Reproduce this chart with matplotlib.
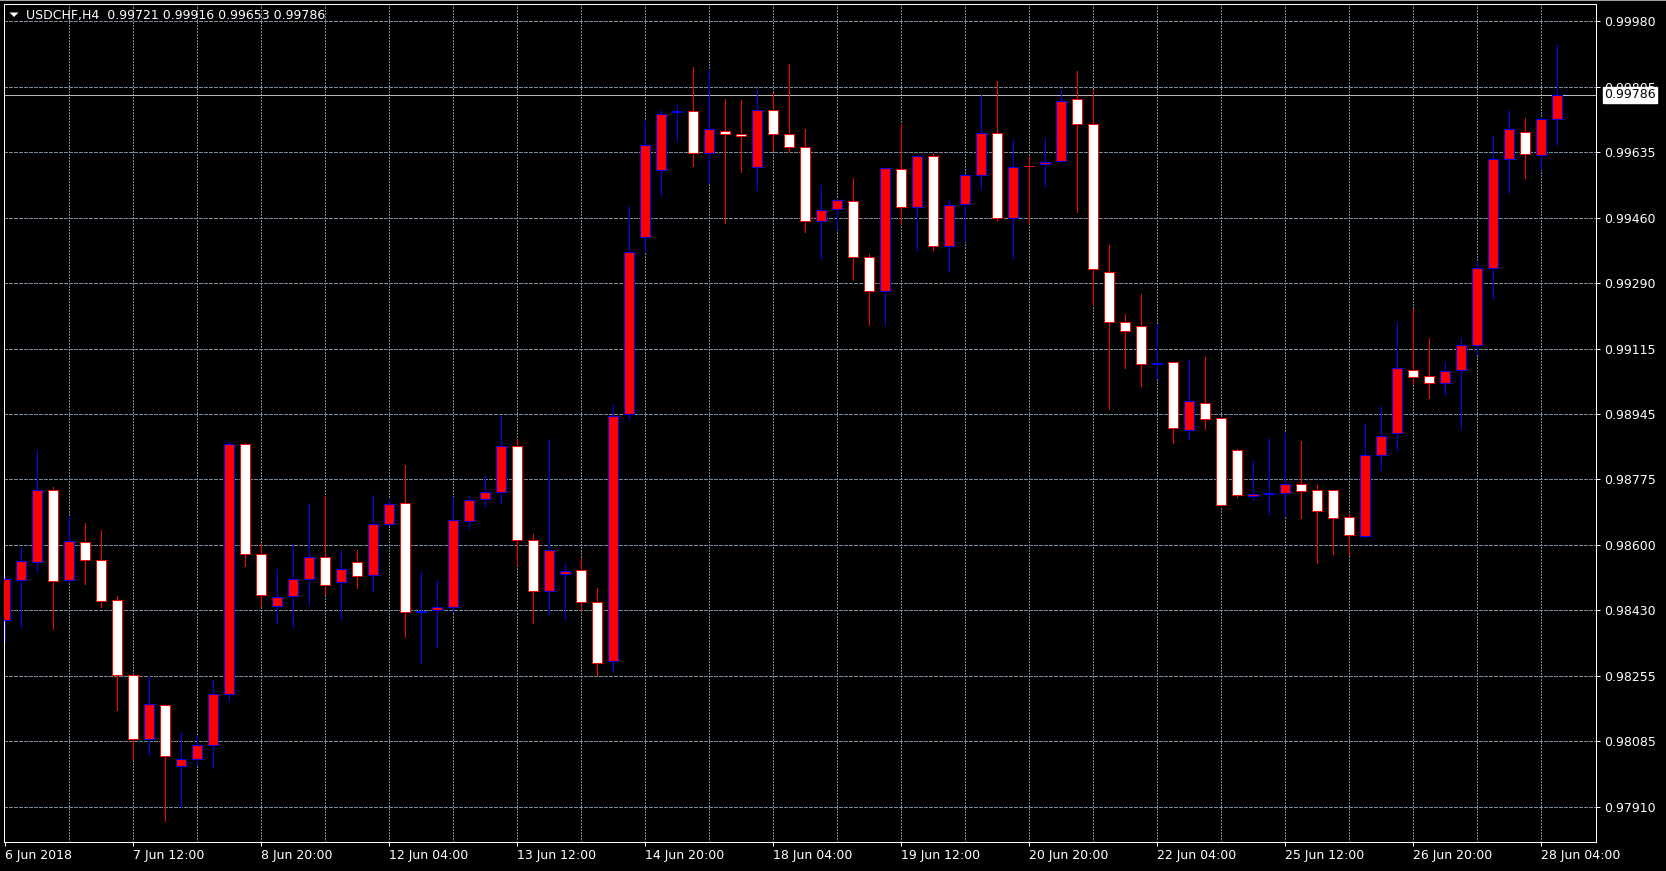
import matplotlib
matplotlib.use("Agg")
import matplotlib.pyplot as plt
from matplotlib.lines import Line2D
from matplotlib.patches import Polygon
import numpy as np

# ---------------- data (USDCHF, H4) ----------------
opens = [0.98404, 0.98509, 0.98555, 0.98746, 0.98509, 0.98607, 0.98561, 0.98456, 0.98259, 0.98089,
         0.98179, 0.98018, 0.98037, 0.98075, 0.98209, 0.98866, 0.98576, 0.98441, 0.98466, 0.98512,
         0.98570, 0.98502, 0.98555, 0.98522, 0.98656, 0.98710, 0.98423, 0.98428, 0.98438, 0.98664,
         0.98721, 0.98740, 0.98860, 0.98614, 0.98479, 0.98525, 0.98534, 0.98450, 0.98294, 0.98944,
         0.99411, 0.99587, 0.99740, 0.99742, 0.99631, 0.99691, 0.99683, 0.99596, 0.99746, 0.99683,
         0.99649, 0.99452, 0.99486, 0.99507, 0.99359, 0.99270, 0.99589, 0.99489, 0.99623, 0.99388,
         0.99498, 0.99573, 0.99686, 0.99462, 0.99599, 0.99602, 0.99610, 0.99775, 0.99709, 0.99320,
         0.99186, 0.99176, 0.99078, 0.99081, 0.98903, 0.98975, 0.98934, 0.98851, 0.98730, 0.98734,
         0.98737, 0.98760, 0.98744, 0.98744, 0.98674, 0.98623, 0.98837, 0.98895, 0.99062, 0.99045,
         0.99027, 0.99060, 0.99128, 0.99330, 0.99616, 0.99687, 0.99626, 0.99721]
highs = [0.98519, 0.98594, 0.98851, 0.98753, 0.98675, 0.98659, 0.98639, 0.98466, 0.98262, 0.98255,
         0.98180, 0.98108, 0.98101, 0.98245, 0.98871, 0.98869, 0.98606, 0.98538, 0.98600, 0.98711,
         0.98730, 0.98587, 0.98587, 0.98733, 0.98721, 0.98811, 0.98531, 0.98509, 0.98727, 0.98730,
         0.98782, 0.98942, 0.98880, 0.98630, 0.98880, 0.98554, 0.98565, 0.98487, 0.98970, 0.99492,
         0.99717, 0.99746, 0.99761, 0.99859, 0.99850, 0.99774, 0.99771, 0.99797, 0.99790, 0.99866,
         0.99696, 0.99548, 0.99512, 0.99566, 0.99367, 0.99596, 0.99709, 0.99626, 0.99632, 0.99508,
         0.99576, 0.99785, 0.99821, 0.99670, 0.99621, 0.99671, 0.99797, 0.99849, 0.99797, 0.99390,
         0.99208, 0.99260, 0.99183, 0.99082, 0.99089, 0.99095, 0.98935, 0.98853, 0.98822, 0.98883,
         0.98895, 0.98874, 0.98759, 0.98746, 0.98682, 0.98922, 0.98965, 0.99188, 0.99222, 0.99146,
         0.99082, 0.99146, 0.99345, 0.99678, 0.99746, 0.99724, 0.99724, 0.99916]
lows = [0.98349, 0.98382, 0.98529, 0.98378, 0.98506, 0.98499, 0.98437, 0.98166, 0.98037, 0.98047,
        0.97873, 0.97910, 0.98021, 0.98014, 0.98190, 0.98544, 0.98441, 0.98394, 0.98381, 0.98443,
        0.98472, 0.98402, 0.98486, 0.98479, 0.98652, 0.98358, 0.98291, 0.98332, 0.98425, 0.98643,
        0.98704, 0.98711, 0.98548, 0.98394, 0.98420, 0.98402, 0.98428, 0.98259, 0.98265, 0.98929,
        0.99371, 0.99518, 0.99664, 0.99599, 0.99554, 0.99447, 0.99583, 0.99534, 0.99639, 0.99634,
        0.99423, 0.99352, 0.99431, 0.99299, 0.99179, 0.99180, 0.99446, 0.99378, 0.99378, 0.99320,
        0.99400, 0.99537, 0.99455, 0.99356, 0.99447, 0.99544, 0.99609, 0.99478, 0.99232, 0.98959,
        0.99065, 0.99020, 0.99039, 0.98869, 0.98880, 0.98905, 0.98704, 0.98726, 0.98720, 0.98682,
        0.98678, 0.98671, 0.98552, 0.98578, 0.98574, 0.98620, 0.98798, 0.98851, 0.99024, 0.98987,
        0.98996, 0.98905, 0.99104, 0.99247, 0.99527, 0.99567, 0.99589, 0.99653]
closes = [0.98512, 0.98557, 0.98746, 0.98505, 0.98612, 0.98560, 0.98454, 0.98259, 0.98089, 0.98181,
          0.98046, 0.98037, 0.98075, 0.98209, 0.98866, 0.98577, 0.98469, 0.98464, 0.98512, 0.98570,
          0.98496, 0.98537, 0.98519, 0.98655, 0.98707, 0.98424, 0.98427, 0.98438, 0.98665, 0.98720,
          0.98739, 0.98860, 0.98614, 0.98479, 0.98586, 0.98532, 0.98451, 0.98291, 0.98939, 0.99371,
          0.99654, 0.99736, 0.99743, 0.99631, 0.99694, 0.99683, 0.99677, 0.99746, 0.99683, 0.99648,
          0.99452, 0.99481, 0.99509, 0.99359, 0.99270, 0.99592, 0.99489, 0.99623, 0.99388, 0.99494,
          0.99573, 0.99686, 0.99462, 0.99596, 0.99598, 0.99608, 0.99768, 0.99709, 0.99326, 0.99186,
          0.99163, 0.99076, 0.99079, 0.98909, 0.98980, 0.98932, 0.98705, 0.98731, 0.98734, 0.98736,
          0.98760, 0.98742, 0.98691, 0.98672, 0.98626, 0.98837, 0.98887, 0.99065, 0.99042, 0.99027,
          0.99058, 0.99127, 0.99330, 0.99615, 0.99696, 0.99629, 0.99721, 0.99786]

time_labels = ["6 Jun 2018", "7 Jun 12:00", "8 Jun 20:00", "12 Jun 04:00", "13 Jun 12:00",
               "14 Jun 20:00", "18 Jun 04:00", "19 Jun 12:00", "20 Jun 20:00", "22 Jun 04:00",
               "25 Jun 12:00", "26 Jun 20:00", "28 Jun 04:00"]
label_every = 8
grid_every = 4
price_ticks = [0.97910, 0.98085, 0.98255, 0.98430, 0.98600, 0.98775, 0.98945,
               0.99115, 0.99290, 0.99460, 0.99635, 0.99805, 0.99980]
price_labels = ["0.97910", "0.98085", "0.98255", "0.98430", "0.98600", "0.98775", "0.98945",
                "0.99115", "0.99290", "0.99460", "0.99635", "0.99805", "0.99980"]
symbol = "USDCHF,H4"
last_bar = (0.99721, 0.99916, 0.99653, 0.99786)

# ---------------- styling ----------------
BULL_FACE, BULL_EDGE = "#ff0000", "#0000ff"
BEAR_FACE, BEAR_EDGE = "#ffffff", "#ff0000"
GRID = "#778899"
FG = "#ffffff"
PX = 0.72  # one pixel in points at dpi 100

W, H = 1666, 871
fig = plt.figure(figsize=(W / 100, H / 100), dpi=100, facecolor="black")
left, right, top, bottom = 4, 1596, 4.4, 842
ax = fig.add_axes([left / W, 1 - bottom / H, (right - left) / W, (bottom - top) / H])
ax.set_facecolor("black")

o = np.array(opens); h = np.array(highs); l = np.array(lows); c = np.array(closes)
n = len(o)
x = np.arange(n)
up = c >= o
face = np.where(up, BULL_FACE, BEAR_FACE)
edge = np.where(up, BULL_EDGE, BEAR_EDGE)

ax.set_xlim(-0.083, 99.42)
ax.set_ylim(0.978187, 1.000232)

# grid
for yv in price_ticks:
    ax.axhline(yv, color=GRID, lw=PX, linestyle=(0, (3, 2)), zorder=1, antialiased=False)
for xv in range(grid_every, n, grid_every):
    ax.axvline(xv, color=GRID, lw=PX, linestyle=(0, (2, 2)), zorder=1, antialiased=False)

# bid line
ax.axhline(closes[-1], color="#b8b8b8", lw=PX, zorder=1.5, antialiased=False)

# candles
ax.vlines(x, l, h, colors=edge, lw=PX, zorder=2, antialiased=False)
ax.bar(x, np.abs(c - o), bottom=np.minimum(o, c), width=0.625, color=face,
       edgecolor=edge, linewidth=PX, zorder=3, antialiased=False)

# spines
for s in ax.spines.values():
    s.set_color(FG)
    s.set_linewidth(PX)

# price axis
ax.yaxis.tick_right()
ax.set_yticks(price_ticks)
ax.set_yticklabels(price_labels)
ax.tick_params(axis="y", direction="out", length=3, width=PX, color=FG,
               labelcolor=FG, labelsize=9, pad=2.5)

# time axis
xt = list(range(0, n, label_every))[:len(time_labels)]
ax.set_xticks(xt)
ax.set_xticklabels(time_labels, ha="left")
ax.tick_params(axis="x", direction="out", length=3, width=PX, color=FG,
               labelcolor=FG, labelsize=9, pad=2)
for lab in ax.get_xticklabels():
    lab.set_horizontalalignment("left")

# current price label
ax.annotate(f"{closes[-1]:.5f}", xy=(1.0, closes[-1]), xycoords=("axes fraction", "data"),
            xytext=(6, 0), textcoords="offset points", va="center", ha="left",
            fontsize=9, color="black", zorder=10, annotation_clip=False,
            bbox=dict(boxstyle="square,pad=0.12", fc="white", ec="white"))

# header
fig.text(26 / W, 1 - 16 / H,
         f"{symbol}  " + " ".join(f"{v:.5f}" for v in last_bar),
         color=FG, fontsize=9, va="center", ha="left")
tri = Polygon([[9.5 / W, 1 - 12.5 / H], [18.5 / W, 1 - 12.5 / H], [14 / W, 1 - 17 / H]],
              closed=True, transform=fig.transFigure, fc=FG, ec=FG, lw=0)
fig.add_artist(tri)
fig.add_artist(Line2D([0, 1], [1 - 0.5 / H, 1 - 0.5 / H], transform=fig.transFigure,
                      color="#a0a0a0", lw=PX))

fig.savefig("out.png", dpi=100, facecolor="black")
